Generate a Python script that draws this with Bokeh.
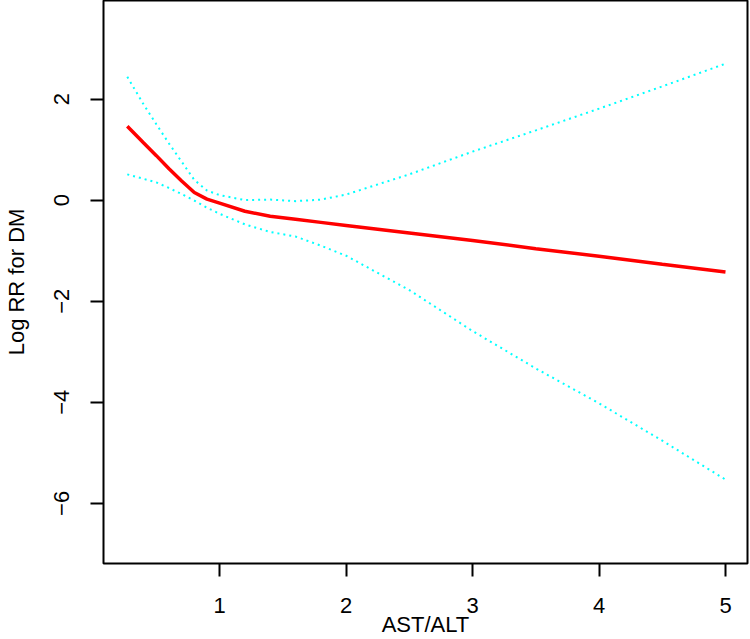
from bokeh.plotting import figure
from bokeh.models import FixedTicker, Range1d
from bokeh.embed import file_html
from bokeh.resources import INLINE

# Data
ast_alt = [0.27, 0.4, 0.5, 0.6, 0.7, 0.8, 0.9, 1.0, 1.2, 1.4, 1.6, 1.8, 2.0, 2.5, 3.0, 3.5, 4.0, 4.5, 5.0]
log_rr = [1.46, 1.13, 0.88, 0.62, 0.38, 0.15, 0.02, -0.06, -0.22, -0.32, -0.38, -0.44, -0.50, -0.65, -0.80, -0.96, -1.11, -1.27, -1.42]
upper_ci = [2.44, 1.89, 1.50, 1.12, 0.76, 0.40, 0.19, 0.10, 0.00, 0.01, -0.02, 0.01, 0.11, 0.51, 0.96, 1.38, 1.81, 2.25, 2.70]
lower_ci = [0.51, 0.42, 0.35, 0.24, 0.12, -0.01, -0.15, -0.27, -0.48, -0.63, -0.72, -0.90, -1.10, -1.78, -2.59, -3.33, -4.02, -4.76, -5.53]
x_ticks = [1, 2, 3, 4, 5]
y_ticks = [-6, -4, -2, 0, 2]
x_title = "AST/ALT"
y_title = "Log RR for DM"

FONT = "Liberation Sans"

p = figure(width=750, height=639, output_backend="svg", toolbar_location=None,
           x_range=Range1d(0.082, 5.174), y_range=Range1d(-7.19, 3.95),
           min_border_left=103, min_border_right=3, min_border_top=0, min_border_bottom=75)

p.line(ast_alt, upper_ci, line_color="#00FFFF", line_width=2, line_dash="2 4")
p.line(ast_alt, lower_ci, line_color="#00FFFF", line_width=2, line_dash="2 4")
p.line(ast_alt, log_rr, line_color="#FF0000", line_width=3.5)

p.grid.visible = False
p.outline_line_color = "black"
p.outline_line_width = 2
p.outline_line_alpha = 1.0
p.background_fill_color = "white"
p.border_fill_color = "white"

for ax in (p.xaxis[0], p.yaxis[0]):
    ax.axis_line_color = None
    ax.major_tick_in = 0
    ax.major_tick_out = 13
    ax.major_tick_line_width = 2
    ax.major_tick_line_color = "black"
    ax.minor_tick_line_color = None
    ax.major_label_text_font = FONT
    ax.major_label_text_font_size = "22px"
    ax.major_label_text_color = "black"
    ax.axis_label_text_font = FONT
    ax.axis_label_text_font_size = "22px"
    ax.axis_label_text_font_style = "normal"
    ax.axis_label_text_color = "black"

p.xaxis[0].ticker = FixedTicker(ticks=x_ticks)
p.yaxis[0].ticker = FixedTicker(ticks=y_ticks)
p.xaxis[0].axis_label = x_title
p.yaxis[0].axis_label = y_title
p.yaxis[0].major_label_orientation = "vertical"
p.xaxis[0].major_label_standoff = 21
p.xaxis[0].axis_label_standoff = -4
p.yaxis[0].major_label_standoff = 21
p.yaxis[0].axis_label_standoff = 23

open("out.html", "w").write(file_html(p, INLINE))
